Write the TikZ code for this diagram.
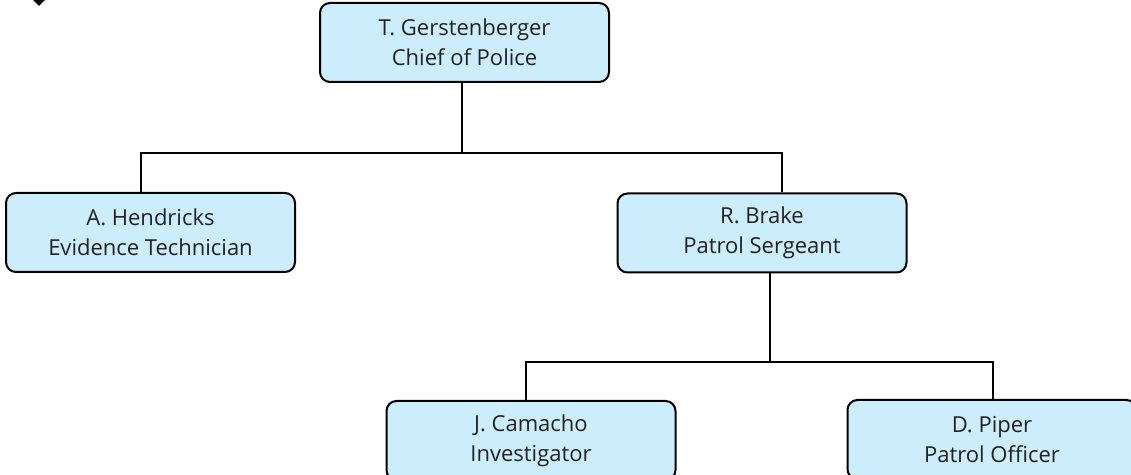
\documentclass[tikz,border=0pt]{standalone}
\usepackage{fontspec}
\setmainfont{Open Sans}
\definecolor{boxfill}{RGB}{204,237,251}
\definecolor{txt}{RGB}{34,34,34}
\tikzset{
  orgbox/.style={draw=black, line width=1pt, fill=boxfill, rounded corners=5pt,
    minimum width=144.5pt, minimum height=39.5pt, inner sep=0pt, align=center,
    text=txt, font=\fontsize{11}{15}\selectfont},
  conn/.style={draw=black, line width=1pt}
}
\begin{document}
\begin{tikzpicture}[x=0.5pt, y=-0.5pt]
\useasboundingbox (0,0) rectangle (1131,475);
\fill[black] (33,0) -- (45,0) -- (39,6) -- cycle;
\node[orgbox] (chief) at (464.5,42.5) {T. Gerstenberger\\Chief of Police};
\node[orgbox] (hend) at (150.5,232.5) {A. Hendricks\\Evidence Technician};
\node[orgbox] (brake) at (762,233) {R. Brake\\Patrol Sergeant};
\node[orgbox] (cam) at (531,440.5) {J. Camacho\\Investigator};
\node[orgbox] (piper) at (992,439.5) {D. Piper\\Patrol Officer};
\coordinate (b1) at (141,153);
\coordinate (b2) at (782,153);
\coordinate (b0) at (462,153);
\coordinate (c0) at (770,362);
\coordinate (c1) at (526,362);
\coordinate (c2) at (993,362);
\draw[conn] (b0 |- chief.south) -- (b0);
\draw[conn] (b1 |- hend.north) -- (b1) -- (b2) -- (b2 |- brake.north);
\draw[conn] (c0 |- brake.south) -- (c0);
\draw[conn] (c1 |- cam.north) -- (c1) -- (c2) -- (c2 |- piper.north);
\end{tikzpicture}
\end{document}
